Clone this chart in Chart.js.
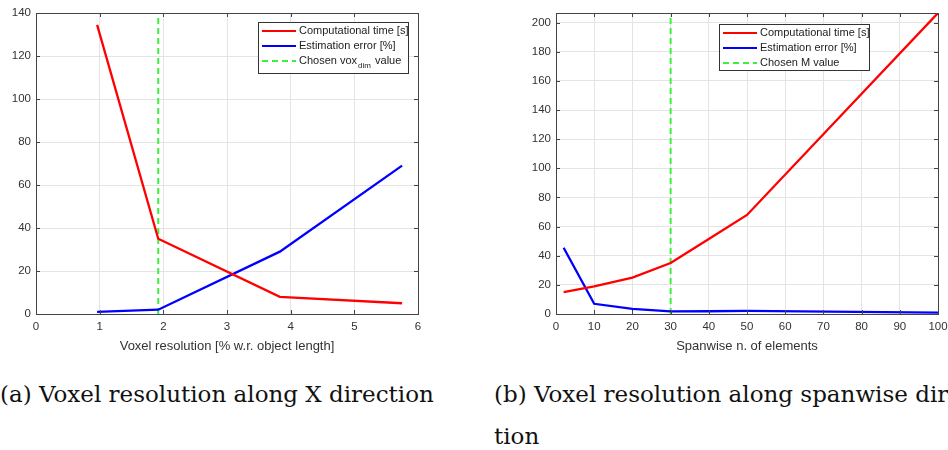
<!DOCTYPE html>
<html>
<head>
<meta charset="utf-8">
<script src="https://cdn.jsdelivr.net/npm/chart.js@4"></script>
<style>
  html, body { margin: 0; padding: 0; background: #fff; }
  body { width: 948px; height: 450px; position: relative; overflow: hidden; }
  .plot { position: absolute; top: 0; }
  .caption {
    position: absolute; white-space: nowrap;
    font-family: "DejaVu Serif", "Liberation Serif", serif;
    font-size: 23px; color: #111;
  }
</style>
</head>
<body>
<div class="plot" style="left:0;width:440px;height:360px"><canvas id="voxChart"></canvas></div>
<div class="plot" style="left:520px;width:440px;height:360px"><canvas id="spanChart"></canvas></div>
<div class="caption" style="left:0;top:381px">(a) Voxel resolution along X direction</div>
<div class="caption" style="left:494px;top:381px">(b) Voxel resolution along spanwise direc-</div>
<div class="caption" style="left:494px;top:423px">tion</div>

<script>
// (a) voxel resolution sweep
const voxRes = [0.96, 1.92, 3.83, 5.75];
const voxTime = [134.5, 35, 8, 5];
const voxError = [1, 2, 29, 69];
const voxChosen = 1.92;

// (b) spanwise elements sweep
const spanN = [2, 10, 20, 30, 40, 50, 100];
const spanTime = [15, 19, 25, 35, 51.5, 68, 206.6];
const spanError = [45.5, 7, 3.5, 1.8, 1.9, 2.1, 1];
const spanChosen = 30;

const seriesLabels = ["Computational time [s]", "Estimation error [%]"];
const RED = "#ff0000", BLUE = "#0000ff", GREEN = "#3cf03c";
const AXIS = "#444", GRID = "#e4e4e4";
const FONT = "'Liberation Sans', Arial, sans-serif";

function pts(xs, ys) {
  return xs.map((x, i) => ({ x: x, y: ys[i] }));
}

// matlab-style box with inward ticks on all sides, plus boxed legend
const boxPlugin = {
  id: "box",
  afterDraw(chart, args, opts) {
    const ctx = chart.ctx;
    const a = chart.chartArea;
    const xs = chart.scales.x, ys = chart.scales.y;
    ctx.save();
    ctx.strokeStyle = AXIS;
    ctx.lineWidth = 1;
    ctx.strokeRect(a.left + 0.5, a.top + 0.5, a.right - a.left, a.bottom - a.top);
    ctx.beginPath();
    xs.ticks.forEach(t => {
      const px = Math.round(xs.getPixelForValue(t.value)) + 0.5;
      ctx.moveTo(px, a.bottom); ctx.lineTo(px, a.bottom - 4);
      ctx.moveTo(px, a.top); ctx.lineTo(px, a.top + 4);
    });
    ys.ticks.forEach(t => {
      const py = Math.round(ys.getPixelForValue(t.value)) + 0.5;
      ctx.moveTo(a.left, py); ctx.lineTo(a.left + 4, py);
      ctx.moveTo(a.right, py); ctx.lineTo(a.right - 4, py);
    });
    ctx.stroke();

    // legend
    const L = opts.box;
    ctx.fillStyle = "#fff";
    ctx.fillRect(L.x, L.y, L.w, L.h);
    ctx.strokeStyle = "#333";
    ctx.strokeRect(L.x + 0.5, L.y + 0.5, L.w, L.h);
    ctx.font = "11px " + FONT;
    ctx.textBaseline = "middle";
    chart.data.datasets.forEach((ds, i) => {
      const cy = L.y + 9 + i * 15;
      ctx.strokeStyle = ds.borderColor;
      ctx.lineWidth = 2;
      ctx.setLineDash(ds.borderDash || []);
      ctx.beginPath();
      ctx.moveTo(L.x + 4, cy); ctx.lineTo(L.x + 38, cy);
      ctx.stroke();
      ctx.setLineDash([]);
      ctx.fillStyle = "#222";
      let tx = L.x + 41;
      if (ds.sub) {
        const [pre, post] = ds.label.split("_");
        ctx.fillText(pre, tx, cy); tx += ctx.measureText(pre).width + 1;
        ctx.font = "8px " + FONT;
        ctx.fillText(ds.sub, tx, cy + 5); tx += ctx.measureText(ds.sub).width + 1;
        ctx.font = "11px " + FONT;
        ctx.fillText(post, tx, cy);
      } else {
        ctx.fillText(ds.label, tx, cy);
      }
    });
    ctx.restore();
  }
};

function makeChart(id, cfg) {
  return new Chart(document.getElementById(id), {
    type: "line",
    data: {
      datasets: [
        { label: seriesLabels[0], data: pts(cfg.xs, cfg.time), borderColor: RED, borderWidth: 2.3 },
        { label: seriesLabels[1], data: pts(cfg.xs, cfg.err), borderColor: BLUE, borderWidth: 2.3 },
        { label: cfg.chosenLabel, sub: cfg.sub, data: [{ x: cfg.chosen, y: 0 }, { x: cfg.chosen, y: cfg.ymax }],
          borderColor: GREEN, borderWidth: 2, borderDash: [6, 4] }
      ]
    },
    options: {
      responsive: true,
      maintainAspectRatio: false,
      animation: false,
      elements: { point: { radius: 0 }, line: { tension: 0 } },
      layout: { padding: { top: 13, right: 22, left: 0, bottom: 0 } },
      plugins: { legend: { display: false }, tooltip: { enabled: false }, box: { box: cfg.legend } },
      scales: {
        x: {
          type: "linear", min: 0, max: cfg.xmax,
          ticks: { stepSize: cfg.xstep, padding: 6, color: "#333", font: { family: FONT, size: 11.5 } },
          grid: { color: GRID, drawTicks: false },
          border: { display: false },
          title: { display: true, text: cfg.xtitle, color: "#333", font: { family: FONT, size: 13 }, padding: { top: 3, bottom: 6 } },
          afterFit(s) { s.height = 46; }
        },
        y: {
          min: 0, max: cfg.ymax,
          ticks: { stepSize: 20, padding: 5, color: "#333", includeBounds: false, font: { family: FONT, size: 11.5 } },
          grid: { color: GRID, drawTicks: false },
          border: { display: false },
          afterFit(s) { s.width = 36; }
        }
      }
    },
    plugins: [boxPlugin]
  });
}

makeChart("voxChart", {
  xs: voxRes, time: voxTime, err: voxError, chosen: voxChosen,
  chosenLabel: "Chosen vox_ value", sub: "dim",
  xmax: 6, xstep: 1, ymax: 140,
  xtitle: "Voxel resolution [% w.r. object length]",
  legend: { x: 258, y: 22, w: 150, h: 51 }
});

makeChart("spanChart", {
  xs: spanN, time: spanTime, err: spanError, chosen: spanChosen,
  chosenLabel: "Chosen M value",
  xmax: 100, xstep: 10, ymax: 206.6,
  xtitle: "Spanwise n. of elements",
  legend: { x: 199, y: 24, w: 150, h: 46 }
});
</script>
</body>
</html>
